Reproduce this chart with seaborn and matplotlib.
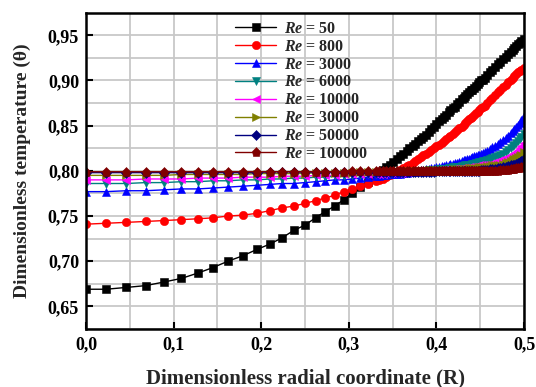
import matplotlib
matplotlib.use("Agg")
import matplotlib.pyplot as plt
import seaborn as sns
import numpy as np
from matplotlib.ticker import FuncFormatter, MultipleLocator

R = [0.000, 0.023, 0.046, 0.068, 0.089, 0.109, 0.128, 0.145, 0.162, 0.179,
     0.195, 0.210, 0.224, 0.237, 0.250, 0.262, 0.273, 0.284, 0.294, 0.304,
     0.313, 0.322, 0.331,
     0.335, 0.339, 0.343, 0.347, 0.351, 0.355, 0.359, 0.362, 0.366, 0.369,
     0.373, 0.376, 0.379, 0.382, 0.385, 0.388, 0.391, 0.394, 0.397, 0.400,
     0.403, 0.406, 0.409, 0.411, 0.414, 0.416, 0.419, 0.421, 0.424, 0.426,
     0.429, 0.431, 0.433, 0.435, 0.437, 0.439, 0.441, 0.443, 0.445, 0.447,
     0.449, 0.451, 0.453, 0.455,
     0.458, 0.461, 0.464, 0.467, 0.470, 0.473, 0.476, 0.479, 0.482, 0.485,
     0.487, 0.489, 0.491, 0.493, 0.495, 0.497, 0.500]

re_50 = [0.669, 0.669, 0.671, 0.673, 0.677, 0.681, 0.687, 0.693, 0.700, 0.706,
         0.713, 0.719, 0.726, 0.734, 0.740, 0.748, 0.755, 0.761, 0.768, 0.775,
         0.782, 0.788, 0.795,
         0.798, 0.801, 0.804, 0.807, 0.810, 0.813, 0.816, 0.819, 0.822, 0.825,
         0.828, 0.830, 0.833, 0.835, 0.838, 0.840, 0.843, 0.846, 0.849, 0.852,
         0.855, 0.857, 0.860, 0.862, 0.865, 0.867, 0.869, 0.871, 0.874, 0.876,
         0.879, 0.881, 0.883, 0.885, 0.887, 0.889, 0.890, 0.892, 0.894, 0.896,
         0.898, 0.900, 0.901, 0.903,
         0.906, 0.909, 0.912, 0.915, 0.918, 0.921, 0.924, 0.926, 0.929, 0.932,
         0.934, 0.936, 0.938, 0.940, 0.942, 0.944, 0.946]
re_800 = [0.741, 0.742, 0.743, 0.744, 0.745, 0.746, 0.747, 0.748, 0.750, 0.751,
          0.753, 0.756, 0.759, 0.761, 0.764, 0.767, 0.770, 0.773, 0.777, 0.780,
          0.783, 0.786, 0.789,
          0.790, 0.791, 0.793, 0.795, 0.797, 0.799, 0.801, 0.803, 0.805, 0.807,
          0.809, 0.811, 0.813, 0.815, 0.817, 0.819, 0.821, 0.823, 0.825, 0.827,
          0.829, 0.831, 0.833, 0.835, 0.837, 0.839, 0.841, 0.843, 0.845, 0.847,
          0.849, 0.851, 0.853, 0.855, 0.857, 0.858, 0.860, 0.862, 0.864, 0.865,
          0.867, 0.869, 0.871, 0.872,
          0.875, 0.878, 0.881, 0.884, 0.887, 0.890, 0.893, 0.895, 0.898, 0.901,
          0.903, 0.905, 0.907, 0.909, 0.910, 0.912, 0.914]
re_3000 = [0.777, 0.777, 0.778, 0.778, 0.779, 0.780, 0.780, 0.781, 0.782, 0.783,
           0.784, 0.785, 0.786, 0.786, 0.787, 0.788, 0.789, 0.790, 0.790, 0.791,
           0.792, 0.793, 0.794,
           0.794, 0.795, 0.795, 0.796, 0.796, 0.797, 0.797, 0.798, 0.798, 0.799,
           0.799, 0.800, 0.800, 0.801, 0.801, 0.802, 0.802, 0.803, 0.803, 0.804,
           0.804, 0.805, 0.805, 0.806, 0.807, 0.808, 0.808, 0.809, 0.809, 0.810,
           0.811, 0.812, 0.812, 0.813, 0.813, 0.814, 0.815, 0.816, 0.816, 0.817,
           0.818, 0.819, 0.820, 0.821,
           0.822, 0.824, 0.826, 0.828, 0.830, 0.832, 0.834, 0.836, 0.839, 0.842,
           0.844, 0.846, 0.848, 0.851, 0.853, 0.856, 0.861]
re_6000 = [0.786, 0.786, 0.786, 0.787, 0.787, 0.788, 0.788, 0.789, 0.789, 0.790,
           0.790, 0.791, 0.791, 0.792, 0.792, 0.793, 0.793, 0.794, 0.794, 0.795,
           0.795, 0.796, 0.796,
           0.797, 0.797, 0.797, 0.797, 0.798, 0.798, 0.798, 0.798, 0.799, 0.799,
           0.799, 0.799, 0.800, 0.800, 0.800, 0.800, 0.801, 0.801, 0.801, 0.801,
           0.802, 0.802, 0.802, 0.802, 0.803, 0.803, 0.804, 0.804, 0.804, 0.804,
           0.805, 0.805, 0.806, 0.806, 0.807, 0.807, 0.808, 0.808, 0.809, 0.809,
           0.810, 0.810, 0.811, 0.811,
           0.812, 0.813, 0.814, 0.815, 0.816, 0.818, 0.819, 0.821, 0.823, 0.825,
           0.827, 0.829, 0.831, 0.833, 0.835, 0.837, 0.841]
re_10000 = [0.790, 0.790, 0.790, 0.791, 0.791, 0.791, 0.792, 0.792, 0.792, 0.793,
            0.793, 0.793, 0.794, 0.794, 0.794, 0.795, 0.795, 0.795, 0.796, 0.796,
            0.796, 0.797, 0.797,
            0.797, 0.797, 0.798, 0.798, 0.798, 0.798, 0.798, 0.798, 0.799, 0.799,
            0.799, 0.799, 0.799, 0.799, 0.800, 0.800, 0.800, 0.800, 0.800, 0.800,
            0.801, 0.801, 0.801, 0.801, 0.801, 0.801, 0.802, 0.802, 0.802, 0.802,
            0.803, 0.803, 0.803, 0.803, 0.804, 0.804, 0.804, 0.804, 0.805, 0.805,
            0.806, 0.806, 0.806, 0.806,
            0.807, 0.808, 0.809, 0.810, 0.811, 0.812, 0.813, 0.814, 0.815, 0.817,
            0.818, 0.820, 0.821, 0.823, 0.825, 0.827, 0.831]
re_30000 = [0.795, 0.795, 0.795, 0.795, 0.795, 0.796, 0.796, 0.796, 0.796, 0.796,
            0.797, 0.797, 0.797, 0.797, 0.797, 0.798, 0.798, 0.798, 0.798, 0.798,
            0.799, 0.799, 0.799,
            0.799, 0.799, 0.799, 0.799, 0.800, 0.800, 0.800, 0.800, 0.800, 0.800,
            0.800, 0.800, 0.800, 0.800, 0.800, 0.800, 0.801, 0.801, 0.801, 0.801,
            0.801, 0.801, 0.801, 0.801, 0.801, 0.801, 0.802, 0.802, 0.802, 0.802,
            0.802, 0.802, 0.802, 0.802, 0.803, 0.803, 0.803, 0.803, 0.803, 0.803,
            0.804, 0.804, 0.804, 0.804,
            0.805, 0.805, 0.806, 0.806, 0.807, 0.807, 0.808, 0.809, 0.810, 0.811,
            0.812, 0.813, 0.814, 0.815, 0.816, 0.818, 0.821]
re_50000 = [0.798, 0.798, 0.798, 0.798, 0.798, 0.798, 0.798, 0.798, 0.798, 0.798,
            0.798, 0.799, 0.799, 0.799, 0.799, 0.799, 0.799, 0.799, 0.799, 0.799,
            0.799, 0.799, 0.799,
            0.799, 0.799, 0.799, 0.799, 0.799, 0.799, 0.799, 0.799, 0.799, 0.799,
            0.799, 0.799, 0.799, 0.799, 0.799, 0.799, 0.799, 0.799, 0.799, 0.800,
            0.800, 0.800, 0.800, 0.800, 0.800, 0.800, 0.800, 0.800, 0.800, 0.800,
            0.800, 0.800, 0.800, 0.800, 0.800, 0.800, 0.800, 0.800, 0.800, 0.800,
            0.800, 0.801, 0.801, 0.801,
            0.801, 0.802, 0.802, 0.802, 0.803, 0.803, 0.804, 0.804, 0.805, 0.806,
            0.806, 0.807, 0.808, 0.809, 0.810, 0.811, 0.813]
re_100000 = [0.799, 0.799, 0.799, 0.799, 0.799, 0.799, 0.799, 0.799, 0.799, 0.799,
             0.799, 0.799, 0.799, 0.799, 0.799, 0.799, 0.799, 0.799, 0.799, 0.800,
             0.800, 0.800, 0.800,
             0.800, 0.800, 0.800, 0.800, 0.800, 0.800, 0.800, 0.800, 0.800, 0.800,
             0.800, 0.800, 0.800, 0.800, 0.800, 0.800, 0.800, 0.800, 0.800, 0.800,
             0.800, 0.800, 0.800, 0.800, 0.800, 0.800, 0.800, 0.800, 0.800, 0.800,
             0.800, 0.800, 0.800, 0.800, 0.800, 0.800, 0.800, 0.800, 0.800, 0.800,
             0.800, 0.800, 0.800, 0.800,
             0.800, 0.800, 0.800, 0.800, 0.800, 0.801, 0.801, 0.801, 0.801, 0.802,
             0.802, 0.802, 0.803, 0.803, 0.803, 0.804, 0.805]

re_labels = ["50", "800", "3000", "6000", "10000", "30000", "50000", "100000"]
series = [re_50, re_800, re_3000, re_6000, re_10000, re_30000, re_50000, re_100000]
colors = ["#000000", "#ff0000", "#0000ff", "#008080", "#ff00ff", "#808000", "#000080", "#800000"]
markers = ["s", "o", "^", "v", "<", ">", "D", "p"]
msizes = [5.5, 6.0, 6.0, 6.0, 6.0, 6.0, 5.0, 6.5]

sns.set_theme(style="white")
plt.rcParams["font.family"] = ["Liberation Serif", "DejaVu Serif"]
plt.rcParams["mathtext.fontset"] = "custom"
plt.rcParams["mathtext.bfit"] = "Liberation Serif:italic:bold"
plt.rcParams["mathtext.it"] = "Liberation Serif:italic"
plt.rcParams["mathtext.bf"] = "Liberation Serif:bold"
plt.rcParams["mathtext.rm"] = "Liberation Serif"

fig = plt.figure(figsize=(5.36, 3.87), dpi=100)
ax = fig.add_axes([86/536, 1-329/387, (524-86)/536, (329-12.7)/387])

for vals, lab, c, m, ms in zip(series, re_labels, colors, markers, msizes):
    sns.lineplot(x=R, y=vals, ax=ax, color=c, marker=m, markersize=ms,
                 markeredgewidth=0.4, markeredgecolor=c, linewidth=1.0,
                 label=r"$\mathbfit{Re}$ = " + lab, sort=False)

ax.set_xlim(0, 0.5)
ax.set_ylim(0.625, 0.975)
ax.xaxis.set_major_locator(MultipleLocator(0.1))
ax.xaxis.set_minor_locator(MultipleLocator(0.05))
ax.yaxis.set_major_locator(MultipleLocator(0.05))
ax.yaxis.set_minor_locator(MultipleLocator(0.025))
ax.xaxis.set_major_formatter(FuncFormatter(lambda v, p: f"{v:.1f}".replace(".", ",")))
ax.yaxis.set_major_formatter(FuncFormatter(lambda v, p: f"{v:.2f}".replace(".", ",")))
ax.grid(True, which="both", color="#c8c8c8", linewidth=1.3)
ax.set_axisbelow(True)
for s in ax.spines.values():
    s.set_color("black")
    s.set_linewidth(1.8)
ax.tick_params(axis="both", which="major", direction="in", length=5, width=1.5,
               labelsize=13, colors="black", left=True, bottom=True)
ax.tick_params(which="minor", length=0)
for t in ax.get_xticklabels() + ax.get_yticklabels():
    t.set_fontweight("bold")
ax.tick_params(axis="x", pad=5)
ax.tick_params(axis="y", pad=5)

ax.set_xlabel("Dimensionless radial coordinate (R)", fontsize=15, fontweight="bold", labelpad=11)
ax.set_ylabel("Dimensionless temperature (\u03b8)", fontsize=14, fontweight="bold", labelpad=12)

leg = ax.legend(loc="upper left", bbox_to_anchor=(0.325, 0.995), frameon=False,
                prop={"weight": "bold", "size": 11.5}, handlelength=2.6,
                labelspacing=0.12, handletextpad=0.5, borderaxespad=0.0)

fig.savefig("out.png", dpi=100)
